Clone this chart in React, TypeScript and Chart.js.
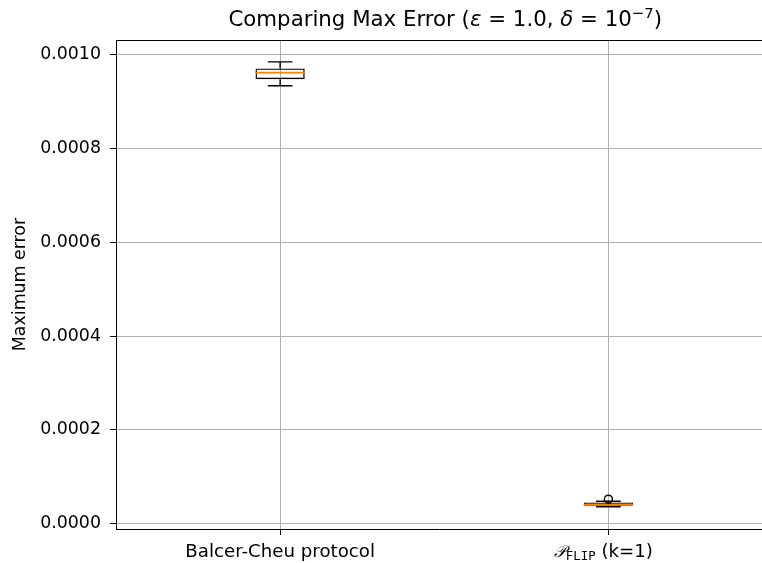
import React, { useEffect, useRef } from "react";
import { Chart, registerables } from "chart.js";

Chart.register(...registerables);

// ---- data ----
const categories = ["Balcer-Cheu protocol", "P_FLIP (k=1)"];
const positions = [1, 2];
const whiskerLow = [0.000933, 0.0000365];
const q1 = [0.000947, 0.0000385];
const medians = [0.000961, 0.000041];
const q3 = [0.00097, 0.0000455];
const whiskerHigh = [0.000984, 0.000048];
const fliers: number[][] = [[], [0.0000525]];
const yMin = -0.000011;
const yMax = 0.0010305;
const yStep = 0.0002;
const xMin = 0.5;
const xMax = 2.468;
const yLabel = "Maximum error";

const FONT = "'DejaVu Sans', sans-serif";
const TICK_SIZE = 17.4;
const XLABEL_SIZE = 18.2;
const TITLE_SIZE = 21.3;

type Seg = { t: string; font: string; dy?: number };

const titleSegs: Seg[] = [
  { t: "Comparing Max Error (", font: `${TITLE_SIZE}px ${FONT}` },
  { t: "ε", font: `italic ${TITLE_SIZE}px ${FONT}` },
  { t: " = 1.0, ", font: `${TITLE_SIZE}px ${FONT}` },
  { t: "δ", font: `italic ${TITLE_SIZE}px ${FONT}` },
  { t: " = 10", font: `${TITLE_SIZE}px ${FONT}` },
  { t: "−7", font: `${TITLE_SIZE * 0.7}px ${FONT}`, dy: -8.5 },
  { t: ")", font: `${TITLE_SIZE}px ${FONT}` },
];

function drawSegs(ctx: CanvasRenderingContext2D, segs: Seg[], cx: number, baseline: number) {
  let total = 0;
  for (const s of segs) {
    ctx.font = s.font;
    total += ctx.measureText(s.t).width;
  }
  let x = cx - total / 2;
  ctx.textAlign = "left";
  ctx.textBaseline = "alphabetic";
  for (const s of segs) {
    ctx.font = s.font;
    ctx.fillText(s.t, x, baseline + (s.dy || 0));
    x += ctx.measureText(s.t).width;
  }
}

const boxPlugin = {
  id: "boxExtras",
  afterDatasetsDraw(chart: any) {
    const xs = chart.scales.x;
    const ys = chart.scales.y;
    const ctx: CanvasRenderingContext2D = chart.ctx;
    const band = xs.getPixelForValue(2) - xs.getPixelForValue(1);
    const boxW = band * 0.15;
    const capW = boxW / 2;
    ctx.save();
    const area = chart.chartArea;
    ctx.beginPath();
    ctx.rect(area.left, area.top, area.right - area.left, area.bottom - area.top);
    ctx.clip();
    positions.forEach((p, i) => {
      const cx = xs.getPixelForValue(p);
      ctx.strokeStyle = "#000";
      ctx.lineWidth = 1.4;
      ctx.beginPath();
      ctx.moveTo(cx, ys.getPixelForValue(q1[i]));
      ctx.lineTo(cx, ys.getPixelForValue(whiskerLow[i]));
      ctx.moveTo(cx, ys.getPixelForValue(q3[i]));
      ctx.lineTo(cx, ys.getPixelForValue(whiskerHigh[i]));
      ctx.moveTo(cx - capW / 2, ys.getPixelForValue(whiskerLow[i]));
      ctx.lineTo(cx + capW / 2, ys.getPixelForValue(whiskerLow[i]));
      ctx.moveTo(cx - capW / 2, ys.getPixelForValue(whiskerHigh[i]));
      ctx.lineTo(cx + capW / 2, ys.getPixelForValue(whiskerHigh[i]));
      ctx.stroke();
      ctx.strokeStyle = "#ff7f0e";
      ctx.lineWidth = 1.8;
      ctx.beginPath();
      ctx.moveTo(cx - boxW / 2, ys.getPixelForValue(medians[i]));
      ctx.lineTo(cx + boxW / 2, ys.getPixelForValue(medians[i]));
      ctx.stroke();
      ctx.strokeStyle = "#000";
      ctx.lineWidth = 1.4;
      for (const f of fliers[i]) {
        ctx.beginPath();
        ctx.arc(cx, ys.getPixelForValue(f), 4, 0, Math.PI * 2);
        ctx.stroke();
      }
    });
    ctx.restore();
  },
  afterDraw(chart: any) {
    const xs = chart.scales.x;
    const ctx: CanvasRenderingContext2D = chart.ctx;
    const area = chart.chartArea;
    ctx.save();
    // top spine
    ctx.strokeStyle = "#000";
    ctx.lineWidth = 1;
    ctx.beginPath();
    ctx.moveTo(area.left, Math.round(area.top) + 0.5);
    ctx.lineTo(area.right, Math.round(area.top) + 0.5);
    ctx.stroke();
    ctx.fillStyle = "#000";
    // title (centred on the full axes, which extend past the visible edge)
    const axesRight = xs.getPixelForValue(2.5);
    drawSegs(ctx, titleSegs, (area.left + axesRight) / 2 + 1, 26);
    // x labels
    const baseY = area.bottom + 27.5;
    drawSegs(ctx, [{ t: categories[0], font: `${XLABEL_SIZE}px ${FONT}` }], xs.getPixelForValue(positions[0]), baseY);
    drawSegs(
      ctx,
      [
        { t: "𝒫", font: `italic ${XLABEL_SIZE * 0.9}px 'DejaVu Serif', serif` },
        { t: "FLIP", font: `${XLABEL_SIZE * 0.68}px 'DejaVu Sans Mono', monospace`, dy: 3 },
        { t: " (k=1)", font: `${XLABEL_SIZE}px ${FONT}` },
      ],
      xs.getPixelForValue(positions[1]) - 5,
      baseY
    );
    ctx.restore();
  },
};

export default function App() {
  const ref = useRef<HTMLCanvasElement>(null);
  useEffect(() => {
    if (!ref.current) return;
    const chart = new Chart(ref.current, {
      type: "bar",
      data: {
        datasets: [
          {
            data: positions.map((p, i) => ({ x: p, y: [q1[i], q3[i]] })) as any,
            backgroundColor: "rgba(0,0,0,0)",
            borderColor: "#000",
            borderWidth: 1.4,
            borderSkipped: false,
            barPercentage: 0.15,
            categoryPercentage: 1,
          },
        ],
      },
      options: {
        animation: false,
        responsive: false,
        devicePixelRatio: 1,
        layout: { padding: { top: 40, left: 0, right: 0, bottom: 0 } },
        plugins: { legend: { display: false }, tooltip: { enabled: false }, title: { display: false } },
        scales: {
          x: {
            type: "linear",
            min: xMin,
            max: xMax,
            offset: false,
            grid: { offset: false, color: "#b0b0b0", lineWidth: 1, tickColor: "#000", tickLength: 6, tickWidth: 1 },
            border: { color: "#000", width: 1 },
            ticks: { display: false },
            afterBuildTicks: (s: any) => {
              s.ticks = positions.map((p) => ({ value: p }));
            },
            afterFit: (s: any) => {
              s.height = 34;
            },
          },
          y: {
            type: "linear",
            min: yMin,
            max: yMax,
            grid: { color: "#b0b0b0", lineWidth: 1, tickColor: "#000", tickLength: 6, tickWidth: 1 },
            border: { color: "#000", width: 1 },
            ticks: {
              stepSize: yStep,
              includeBounds: false,
              padding: 9,
              color: "#000",
              font: { family: "DejaVu Sans", size: TICK_SIZE },
              callback: (v: any) => Number(v).toFixed(4),
            },
            title: {
              display: true,
              text: yLabel,
              color: "#000",
              font: { family: "DejaVu Sans", size: TICK_SIZE },
              padding: { top: 10, bottom: 0 },
            },
            afterFit: (s: any) => {
              s.width = 116;
            },
          },
        },
      },
      plugins: [boxPlugin],
    });
    return () => chart.destroy();
  }, []);
  return (
    <div style={{ position: "fixed", left: 0, top: 0, width: 762, height: 563, background: "#fff" }}>
      <canvas ref={ref} width={762} height={563} style={{ display: "block", width: 762, height: 563 }} />
    </div>
  );
}
